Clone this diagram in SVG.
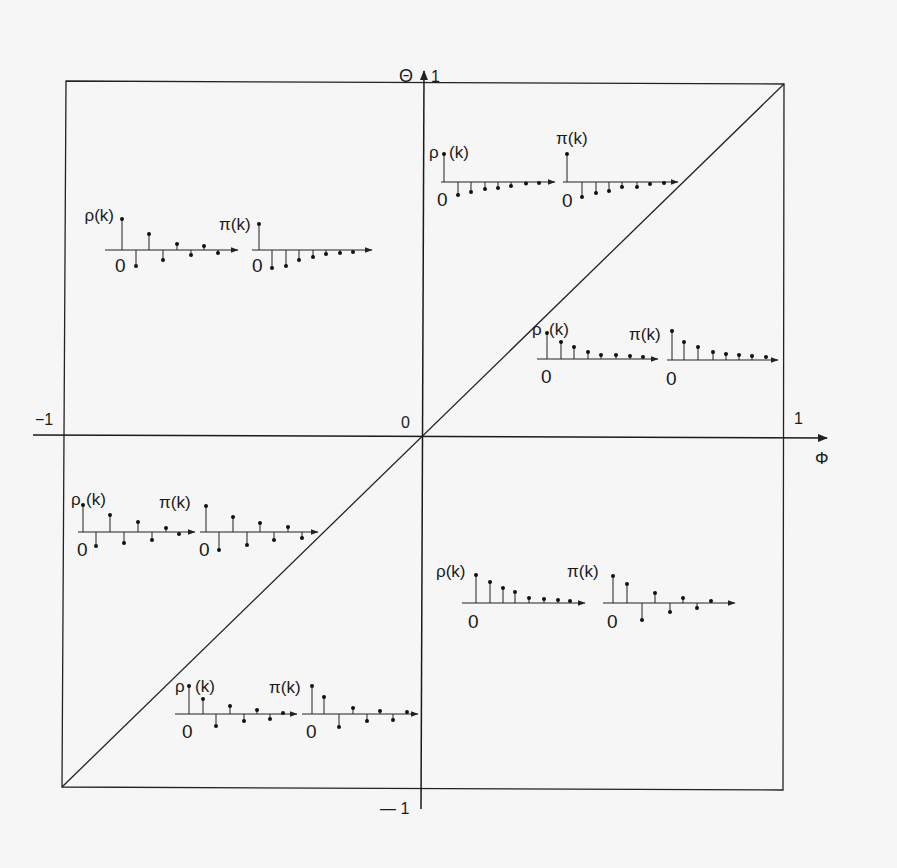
<svg xmlns="http://www.w3.org/2000/svg" width="897" height="868" viewBox="0 0 897 868">
<defs>
<style>
.frame{fill:none;stroke:#222;stroke-width:1.3}
.axis{fill:none;stroke:#1a1a1a;stroke-width:1.5}
.sax{fill:none;stroke:#222;stroke-width:1.2}
.stem{fill:none;stroke:#222;stroke-width:1}
.dot{fill:#111}
.lbl{font-family:"Liberation Sans",Arial,sans-serif;font-size:17px;fill:#1a1a1a}
.zero{font-family:"Liberation Sans",Arial,sans-serif;font-size:19px;fill:#1a1a1a}
.al{font-family:"Liberation Sans",Arial,sans-serif;font-size:16px;fill:#1a1a1a}
</style>
<marker id="ah" viewBox="0 0 10 8" refX="9" refY="4" markerWidth="10" markerHeight="8" markerUnits="userSpaceOnUse" orient="auto">
<path d="M0 0 L10 4 L0 8 Z" fill="#222"/>
</marker>
<marker id="ahs" viewBox="0 0 8 6" refX="7.5" refY="3" markerWidth="8" markerHeight="6" markerUnits="userSpaceOnUse" orient="auto">
<path d="M0 0 L8 3 L0 6 Z" fill="#222"/>
</marker>
</defs>
<rect width="897" height="868" fill="#f6f6f6"/>

<g id="connectors">
<polygon class="frame" points="66,81 784,84 783,790 62,787"/>
<path class="axis" d="M33 435 L827 438" marker-end="url(#ah)"/>
<path class="axis" d="M421 809 L424 71" marker-end="url(#ah)"/>
<path class="frame" d="M62 787 L784 84"/>
</g>

<g id="axis-labels">
<text class="al" x="399" y="82" style="font-size:18px">Θ</text>
<text class="al" x="431" y="82">1</text>
<text class="al" x="35" y="425">−1</text>
<text class="al" x="401" y="428">0</text>
<text class="al" x="794" y="424">1</text>
<text class="al" x="815" y="464" style="font-size:17px">Φ</text>
<text class="al" x="380" y="814">— 1</text>
</g>

<g id="p1-rho">
<path class="sax" d="M441 182 H555" marker-end="url(#ahs)"/>
<path class="stem" d="M444 182V154 M458 182V195 M471 182V192 M485 182V189 M498 182V188 M511 182V186 M526 182V183.5"/>
<g class="dot"><circle cx="444" cy="154" r="2"/><circle cx="458" cy="195" r="2"/><circle cx="471" cy="192" r="2"/><circle cx="485" cy="189" r="2"/><circle cx="498" cy="188" r="2"/><circle cx="511" cy="186" r="2"/><circle cx="526" cy="183.5" r="2"/><circle cx="539" cy="183" r="2"/></g>
<text class="lbl" x="429" y="158">ρ</text><text class="lbl" x="449" y="158">(k)</text>
<text class="zero" x="437" y="206">0</text>
</g>

<g id="p1-pi">
<path class="sax" d="M563 182 H678" marker-end="url(#ahs)"/>
<path class="stem" d="M567 182V154 M582 182V197 M596 182V193 M609 182V191 M622 182V187 M637 182V187 M650 182V184"/>
<g class="dot"><circle cx="567" cy="154" r="2"/><circle cx="582" cy="197" r="2"/><circle cx="596" cy="193" r="2"/><circle cx="609" cy="191" r="2"/><circle cx="622" cy="187" r="2"/><circle cx="637" cy="187" r="2"/><circle cx="650" cy="184" r="2"/><circle cx="664" cy="183" r="2"/></g>
<text class="lbl" x="556" y="144">π(k)</text>
<text class="zero" x="562" y="207">0</text>
</g>

<g id="p2-rho">
<path class="sax" d="M105 250 H238" marker-end="url(#ahs)"/>
<path class="stem" d="M122 250V219 M136 250V266 M149 250V234 M163 250V260 M177 250V244 M191 250V255 M204 250V246 M218 250V253"/>
<g class="dot"><circle cx="122" cy="219" r="2"/><circle cx="136" cy="266" r="2"/><circle cx="149" cy="234" r="2"/><circle cx="163" cy="260" r="2"/><circle cx="177" cy="244" r="2"/><circle cx="191" cy="255" r="2"/><circle cx="204" cy="246" r="2"/><circle cx="218" cy="253" r="2"/></g>
<text class="lbl" x="114" y="221" text-anchor="end">ρ(k)</text>
<text class="zero" x="115" y="272">0</text>
</g>

<g id="p2-pi">
<path class="sax" d="M252 250 H372" marker-end="url(#ahs)"/>
<path class="stem" d="M259 250V224 M272 250V268 M286 250V266 M299 250V260 M313 250V257 M326 250V254 M340 250V253"/>
<g class="dot"><circle cx="259" cy="224" r="2"/><circle cx="272" cy="268" r="2"/><circle cx="286" cy="266" r="2"/><circle cx="299" cy="260" r="2"/><circle cx="313" cy="257" r="2"/><circle cx="326" cy="254" r="2"/><circle cx="340" cy="253" r="2"/><circle cx="353" cy="252" r="2"/></g>
<text class="lbl" x="219" y="230">π(k)</text>
<text class="zero" x="252" y="272">0</text>
</g>

<g id="p3-rho">
<path class="sax" d="M537 359 H658" marker-end="url(#ahs)"/>
<path class="stem" d="M547 359V333 M561 359V342 M574 359V347 M588 359V352 M601 359V355 M616 359V355 M630 359V356"/>
<g class="dot"><circle cx="547" cy="333" r="2"/><circle cx="561" cy="342" r="2"/><circle cx="574" cy="347" r="2"/><circle cx="588" cy="352" r="2"/><circle cx="601" cy="355" r="2"/><circle cx="616" cy="355" r="2"/><circle cx="630" cy="356" r="2"/><circle cx="643" cy="357" r="2"/></g>
<text class="lbl" x="532" y="335">ρ</text><text class="lbl" x="549" y="335">(k)</text>
<text class="zero" x="541" y="383">0</text>
</g>

<g id="p3-pi">
<path class="sax" d="M667 360 H778" marker-end="url(#ahs)"/>
<path class="stem" d="M672 360V331 M684 360V342 M698 360V347 M713 360V352 M726 360V354 M739 360V355 M752 360V356"/>
<g class="dot"><circle cx="672" cy="331" r="2"/><circle cx="684" cy="342" r="2"/><circle cx="698" cy="347" r="2"/><circle cx="713" cy="352" r="2"/><circle cx="726" cy="354" r="2"/><circle cx="739" cy="355" r="2"/><circle cx="752" cy="356" r="2"/><circle cx="766" cy="357" r="2"/></g>
<text class="lbl" x="629" y="340">π(k)</text>
<text class="zero" x="666" y="385">0</text>
</g>

<g id="p4-rho">
<path class="sax" d="M78 532 H195" marker-end="url(#ahs)"/>
<path class="stem" d="M83 532V505 M96 532V546 M110 532V515 M124 532V543 M138 532V522 M152 532V540 M166 532V528 M179 532V534"/>
<g class="dot"><circle cx="83" cy="505" r="2"/><circle cx="96" cy="546" r="2"/><circle cx="110" cy="515" r="2"/><circle cx="124" cy="543" r="2"/><circle cx="138" cy="522" r="2"/><circle cx="152" cy="540" r="2"/><circle cx="166" cy="528" r="2"/><circle cx="179" cy="534" r="2"/></g>
<text class="lbl" x="71" y="505">ρ</text><text class="lbl" x="86" y="505">(k)</text>
<text class="zero" x="77" y="556">0</text>
</g>

<g id="p4-pi">
<path class="sax" d="M200 532 H318" marker-end="url(#ahs)"/>
<path class="stem" d="M206 532V506 M219 532V550 M233 532V517 M247 532V545 M260 532V523 M274 532V540 M288 532V527 M302 532V538"/>
<g class="dot"><circle cx="206" cy="506" r="2"/><circle cx="219" cy="550" r="2"/><circle cx="233" cy="517" r="2"/><circle cx="247" cy="545" r="2"/><circle cx="260" cy="523" r="2"/><circle cx="274" cy="540" r="2"/><circle cx="288" cy="527" r="2"/><circle cx="302" cy="538" r="2"/></g>
<text class="lbl" x="159" y="508">π(k)</text>
<text class="zero" x="199" y="556">0</text>
</g>

<g id="p5-rho">
<path class="sax" d="M462 603 H585" marker-end="url(#ahs)"/>
<path class="stem" d="M476 603V575 M490 603V582 M503 603V588 M515 603V592 M529 603V598 M544 603V599 M558 603V600"/>
<g class="dot"><circle cx="476" cy="575" r="2"/><circle cx="490" cy="582" r="2"/><circle cx="503" cy="588" r="2"/><circle cx="515" cy="592" r="2"/><circle cx="529" cy="598" r="2"/><circle cx="544" cy="599" r="2"/><circle cx="558" cy="600" r="2"/><circle cx="570" cy="601" r="2"/></g>
<text class="lbl" x="436" y="577">ρ(k)</text>
<text class="zero" x="468" y="628">0</text>
</g>

<g id="p5-pi">
<path class="sax" d="M603 603 H735" marker-end="url(#ahs)"/>
<path class="stem" d="M613 603V576 M627 603V584 M642 603V620 M655 603V593 M670 603V612 M683 603V598 M697 603V608 M711 603V601"/>
<g class="dot"><circle cx="613" cy="576" r="2"/><circle cx="627" cy="584" r="2"/><circle cx="642" cy="620" r="2"/><circle cx="655" cy="593" r="2"/><circle cx="670" cy="612" r="2"/><circle cx="683" cy="598" r="2"/><circle cx="697" cy="608" r="2"/><circle cx="711" cy="601" r="2"/></g>
<text class="lbl" x="567" y="577">π(k)</text>
<text class="zero" x="607" y="628">0</text>
</g>

<g id="p6-rho">
<path class="sax" d="M175 714 H297" marker-end="url(#ahs)"/>
<path class="stem" d="M189 714V686 M203 714V699 M216 714V726 M230 714V706 M244 714V721 M257 714V710 M270 714V719"/>
<g class="dot"><circle cx="189" cy="686" r="2"/><circle cx="203" cy="699" r="2"/><circle cx="216" cy="726" r="2"/><circle cx="230" cy="706" r="2"/><circle cx="244" cy="721" r="2"/><circle cx="257" cy="710" r="2"/><circle cx="270" cy="719" r="2"/><circle cx="283" cy="713" r="2"/></g>
<text class="lbl" x="175" y="692">ρ</text><text class="lbl" x="195" y="692">(k)</text>
<text class="zero" x="182" y="738">0</text>
</g>

<g id="p6-pi">
<path class="sax" d="M302 714 H418" marker-end="url(#ahs)"/>
<path class="stem" d="M312 714V686 M324 714V697 M339 714V727 M353 714V708 M367 714V721 M380 714V711 M393 714V720 M407 714V712"/>
<g class="dot"><circle cx="312" cy="686" r="2"/><circle cx="324" cy="697" r="2"/><circle cx="339" cy="727" r="2"/><circle cx="353" cy="708" r="2"/><circle cx="367" cy="721" r="2"/><circle cx="380" cy="711" r="2"/><circle cx="393" cy="720" r="2"/><circle cx="407" cy="712" r="2"/></g>
<text class="lbl" x="269" y="693">π(k)</text>
<text class="zero" x="306" y="738">0</text>
</g>
</svg>
